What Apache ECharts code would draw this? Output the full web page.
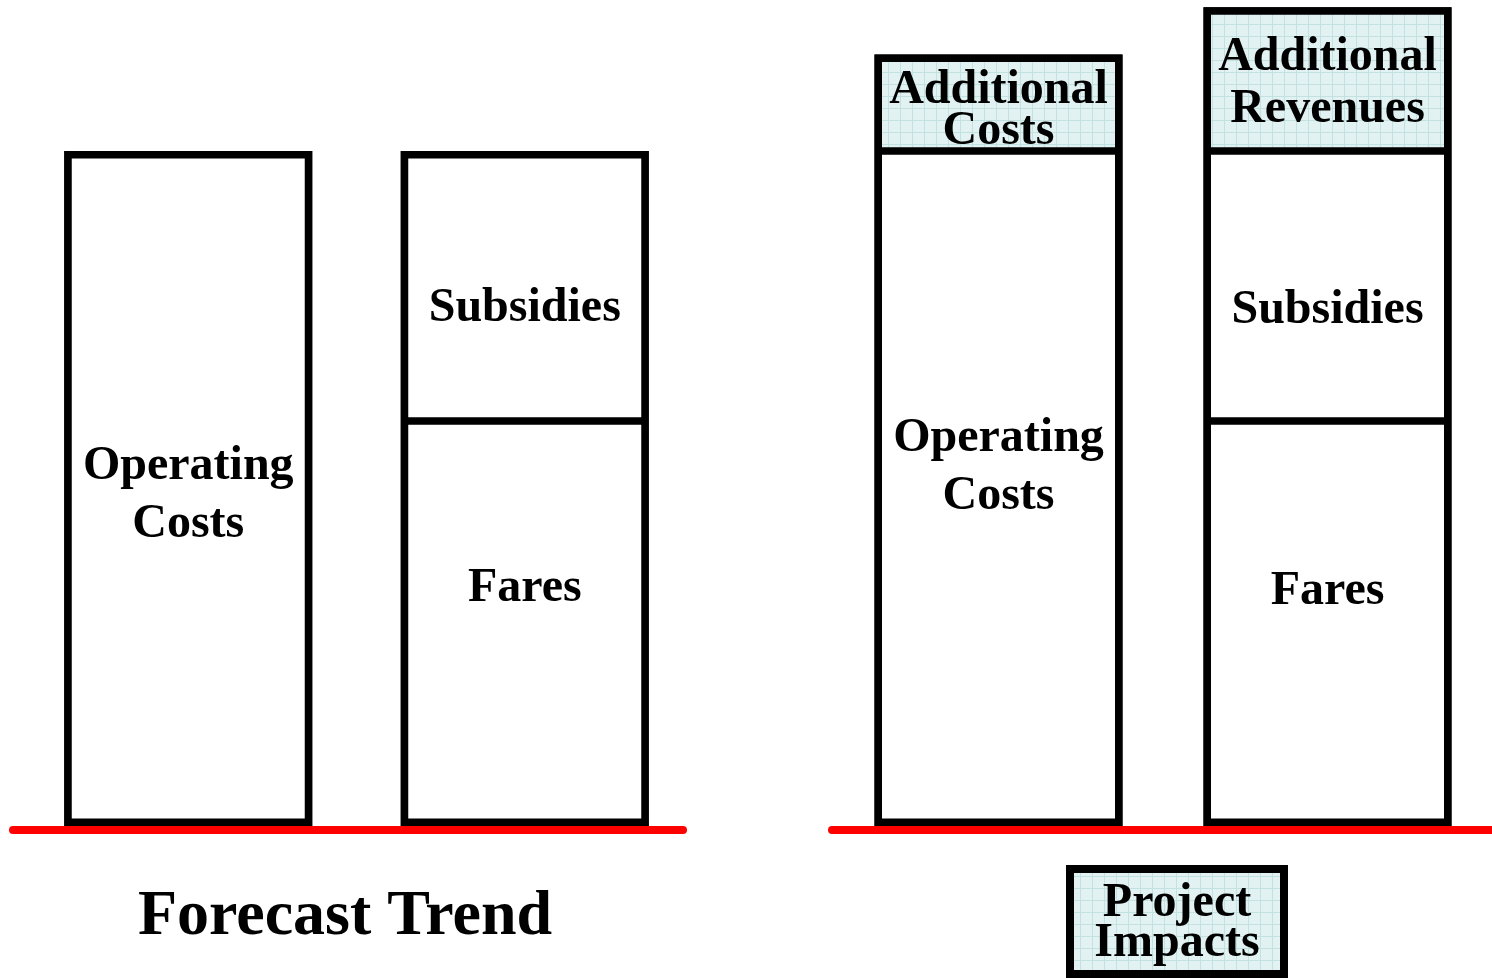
<!DOCTYPE html>
<html>
<head>
<meta charset="utf-8">
<script src="https://cdn.jsdelivr.net/npm/echarts@6/dist/echarts.min.js"></script>
<style>
html,body{margin:0;padding:0;background:#fff;}
#chart{width:1492px;height:978px;}
</style>
</head>
<body>
<div id="chart"></div>
<script>
// ---- data ----
const trendCategories = ['Costs', 'Revenues'];
const impactCategories = ['Costs', 'Revenues'];
const trendOperatingCosts = [100, '-'];
const trendFares = ['-', 60];
const trendSubsidies = ['-', 40];
const impactOperatingCosts = [100, '-'];
const impactAdditionalCosts = [14.3, '-'];
const impactFares = ['-', 60];
const impactSubsidies = ['-', 40];
const impactAdditionalRevenues = ['-', 21.3];
const panelTitle = 'Forecast Trend';
const impactTitle = 'Project\nImpacts';

// column totals (for the outer outline of each column)
function totals(arrays) {
  return arrays[0].map(function (_, i) {
    return arrays.reduce(function (s, a) { return s + (a[i] === '-' ? 0 : a[i]); }, 0);
  });
}
const trendTotals = totals([trendOperatingCosts, trendFares, trendSubsidies]);
const impactTotals = totals([impactOperatingCosts, impactAdditionalCosts, impactFares, impactSubsidies, impactAdditionalRevenues]);

// ---- pattern fill (light grid) ----
function makePattern() {
  const c = document.createElement('canvas');
  c.width = 12; c.height = 12;
  const ctx = c.getContext('2d');
  ctx.fillStyle = '#e2f2f2';
  ctx.fillRect(0, 0, 12, 12);
  ctx.fillStyle = '#c2e2e2';
  ctx.fillRect(0, 0, 12, 1);
  ctx.fillRect(0, 0, 1, 12);
  return c;
}
const pattern = { image: makePattern(), repeat: 'repeat' };

const FONT = '"Liberation Serif", "Times New Roman", serif';
const BAR_W = 248;
const chart = echarts.init(document.getElementById('chart'));

function seg(name, data, xi, stack, fill, text, lh, off) {
  return {
    type: 'bar', name: name, data: data,
    xAxisIndex: xi, yAxisIndex: xi, stack: stack,
    barWidth: BAR_W, barGap: '-100%',
    silent: true,
    itemStyle: { color: fill, borderColor: '#000', borderWidth: 3.75 },
    label: {
      show: true, position: 'inside', formatter: text,
      fontFamily: FONT, fontWeight: 'bold', fontSize: 48,
      lineHeight: lh, color: '#000', offset: [0, off]
    }
  };
}
function outline(data, xi) {
  return {
    type: 'bar', name: 'outline', data: data,
    xAxisIndex: xi, yAxisIndex: xi,
    barWidth: BAR_W, barGap: '-100%', silent: true,
    itemStyle: { color: 'rgba(0,0,0,0)', borderColor: '#000', borderWidth: 7.5 },
    label: { show: false }
  };
}

const yCommon = { type: 'value', min: -0.59, max: 122.37, show: false };
const redAxis = { onZero: false, lineStyle: { color: '#ff0000', width: 8 } };

chart.setOption({
  animation: false,
  title: {
    text: panelTitle, left: 345, top: 885, textAlign: 'center', padding: 0,
    textStyle: { fontFamily: FONT, fontWeight: 'bold', fontSize: 64, color: '#000' }
  },
  grid: [
    { left: 20, width: 673, top: 0, height: 830 },
    { left: 834, width: 665, top: 0, height: 830 },
    { left: 13, width: 670, top: 820, height: 10 },
    { left: 832, width: 664, top: 820, height: 10 }
  ],
  xAxis: [
    { type: 'category', data: trendCategories, gridIndex: 0, show: false },
    { type: 'category', data: impactCategories, gridIndex: 1, show: false },
    { type: 'category', data: trendCategories, gridIndex: 2, axisLine: redAxis, axisTick: { show: false }, axisLabel: { show: false } },
    { type: 'category', data: impactCategories, gridIndex: 3, axisLine: redAxis, axisTick: { show: false }, axisLabel: { show: false } }
  ],
  yAxis: [
    Object.assign({ gridIndex: 0 }, yCommon),
    Object.assign({ gridIndex: 1 }, yCommon),
    { type: 'value', gridIndex: 2, show: false },
    { type: 'value', gridIndex: 3, show: false }
  ],
  series: [
    seg('Operating Costs', trendOperatingCosts, 0, 'L', '#fff', 'Operating\nCosts', 58, 7),
    seg('Fares', trendFares, 0, 'L', '#fff', 'Fares', 58, -35),
    seg('Subsidies', trendSubsidies, 0, 'L', '#fff', 'Subsidies', 58, 22.5),
    outline(trendTotals, 0),
    seg('Operating Costs', impactOperatingCosts, 1, 'R', '#fff', 'Operating\nCosts', 58, -20.5),
    seg('Additional Costs', impactAdditionalCosts, 1, 'R', pattern, 'Additional\nCosts', 41, 8),
    seg('Fares', impactFares, 1, 'R', '#fff', 'Fares', 58, -32),
    seg('Subsidies', impactSubsidies, 1, 'R', '#fff', 'Subsidies', 58, 24.5),
    seg('Additional Revenues', impactAdditionalRevenues, 1, 'R', pattern, 'Additional\nRevenues', 52, 4),
    outline(impactTotals, 1)
  ],
  graphic: [
    {
      type: 'rect', silent: true,
      shape: { x: 1070, y: 869, width: 214, height: 105 },
      style: { fill: pattern, stroke: '#000', lineWidth: 8 }
    },
    {
      type: 'text', silent: true, x: 1177, y: 924,
      style: {
        text: impactTitle, fill: '#000',
        font: 'bold 48px ' + FONT, lineHeight: 40,
        align: 'center', verticalAlign: 'middle'
      }
    }
  ]
});
</script>
</body>
</html>
